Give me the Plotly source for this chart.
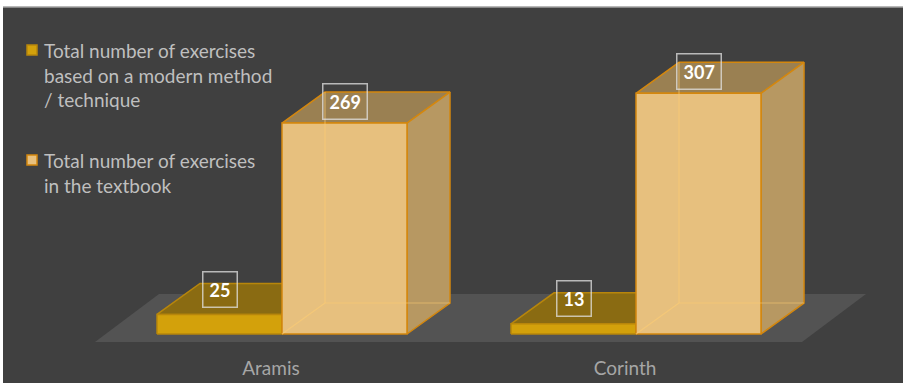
import plotly.graph_objects as go

# ---------------- data ----------------
categories = ["Aramis", "Corinth"]
series_labels = [
    "Total number of exercises<br>based on a modern method<br>/ technique",
    "Total number of exercises<br>in the textbook",
]
modern = [25, 13]
textbook = [269, 307]

# ---------------- style ----------------
W, H = 903, 383
BG = "#404040"
FLOOR = "#535353"
FONT = "Lato"

# pixel scale helpers (layout geometry)
PX_PER_CAT = 354.0
PX_PER_UNIT = 0.784
M_T, M_B = 7, 33
plot_h = H - M_T - M_B
y_lo = -16 / PX_PER_UNIT
y_hi = (plot_h - 16) / PX_PER_UNIT
x_lo = -282 / PX_PER_CAT
x_hi = x_lo + W / PX_PER_CAT

bar_w = 125 / PX_PER_CAT
dx = 43 / PX_PER_CAT
dy = 31 / PX_PER_UNIT

styles = [
    dict(front="#D3A10B", top="#8A6B12", side="#A07C12", line="#B8860B"),
    dict(front="#E7C07E", top="#9A8052", side="#B79862", line="#D4870E"),
]

fig = go.Figure()


def poly(xs, ys, fill, line, lw=1.5):
    fig.add_trace(go.Scatter(
        x=xs + [xs[0]], y=ys + [ys[0]], mode="lines", fill="toself",
        fillcolor=fill, line=dict(color=line, width=lw),
        hoverinfo="skip", showlegend=False))


def seg(xs, ys, color, lw=1.2):
    fig.add_trace(go.Scatter(x=xs, y=ys, mode="lines",
                             line=dict(color=color, width=lw),
                             hoverinfo="skip", showlegend=False))


# floor
fx0, fx1 = -187 / PX_PER_CAT, 520 / PX_PER_CAT
fy = -8 / PX_PER_UNIT
fdx, fdy = 64 / PX_PER_CAT, 48 / PX_PER_UNIT
poly([fx0, fx1, fx1 + fdx, fx0 + fdx], [fy, fy, fy + fdy, fy + fdy], FLOOR, FLOOR, 0)

annots = []
for i, cat in enumerate(categories):
    for s, vals in enumerate([modern, textbook]):
        h = vals[i]
        st = styles[s]
        x0 = i - bar_w if s == 0 else i
        x1 = x0 + bar_w
        # top face
        poly([x0, x1, x1 + dx, x0 + dx], [h, h, h + dy, h + dy], st["top"], st["line"])
        # side face
        poly([x1, x1 + dx, x1 + dx, x1], [0, dy, h + dy, h], st["side"], st["line"])
        # front face
        poly([x0, x1, x1, x0], [0, 0, h, h], st["front"], st["line"])
        if s == 1:
            # hidden edges seen through the translucent box
            ec = "rgba(255,205,115,0.55)"
            seg([x0 + dx, x0 + dx], [dy, h + dy], ec)
            seg([x0 + dx, x1 + dx], [dy, dy], ec)
            seg([x0, x0 + dx], [0, dy], ec)
        annots.append(dict(
            x=(x0 + x1) / 2, y=h, xref="x", yref="y", yshift=22 if s == 1 else 25,
            text="<b>%d</b>" % h, showarrow=False,
            font=dict(family=FONT, size=18, color="white"),
            bordercolor="rgba(225,225,225,0.75)", borderwidth=1.5, borderpad=6,
            bgcolor="rgba(0,0,0,0)"))

# legend (custom, matching reference placement)
leg_y = [50, 160]
shapes = [
    dict(type="rect", xref="paper", yref="paper", x0=3 / W, x1=1,
         y0=-M_B / plot_h, y1=1, fillcolor=BG, line=dict(width=0), layer="below"),
    dict(type="line", xref="paper", yref="paper", x0=3 / W, x1=1, y0=1, y1=1,
         line=dict(color="#a0a0a0", width=1.5), layer="below"),
]
for s, lab in enumerate(series_labels):
    yc = leg_y[s]
    shapes.append(dict(type="rect", xref="paper", yref="paper",
                       x0=27 / W, x1=37 / W,
                       y0=(H - M_B - (yc + 5)) / plot_h, y1=(H - M_B - (yc - 5)) / plot_h,
                       fillcolor=styles[s]["front"], line=dict(color=styles[s]["line"], width=1.5)))
    annots.append(dict(
        x=42 / W, y=(H - M_B - (yc - 13)) / plot_h, xref="paper", yref="paper",
        xanchor="left", yanchor="top", align="left", showarrow=False,
        text=lab, font=dict(family=FONT, size=19, color="#BFBFBF")))

fig.update_layout(
    width=W, height=H,
    margin=dict(l=0, r=0, t=M_T, b=M_B),
    paper_bgcolor="white", plot_bgcolor="rgba(0,0,0,0)",
    showlegend=False,
    shapes=shapes, annotations=annots,
    xaxis=dict(range=[x_lo, x_hi], tickvals=list(range(len(categories))),
               ticktext=categories, showgrid=False, zeroline=False, showline=False,
               ticks="", ticklabelshift=-11, ticklabelstandoff=5,
               tickfont=dict(family=FONT, size=19, color="#A6A6A6"), fixedrange=True),
    yaxis=dict(range=[y_lo, y_hi], visible=False, fixedrange=True),
)

fig.write_html("out.html")
